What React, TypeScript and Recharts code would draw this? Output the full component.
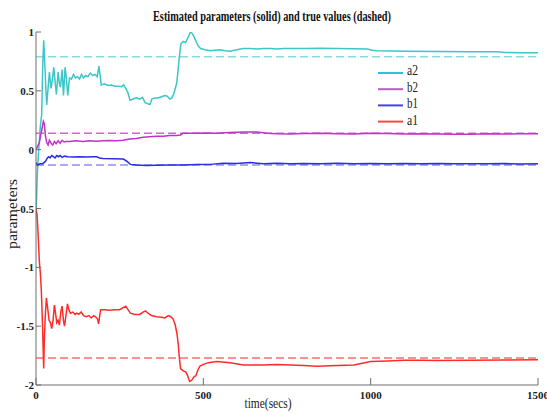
import React from 'react';
import { LineChart, Line, XAxis, YAxis, ReferenceLine, Customized } from 'recharts';

const xTicks = [0, 500, 1000, 1500];
const yTicks = [-2, -1.5, -1, -0.5, 0, 0.5, 1];
const seriesNames = ['a2', 'b2', 'b1', 'a1'];

const a2True = 0.79;
const b2True = 0.14;
const b1True = -0.13;
const a1True = -1.77;

const a2T = [0, 4, 8, 13, 17, 20, 23, 26, 29, 32, 36, 40, 45, 49, 53, 57, 61, 66, 70, 73, 78, 82, 87, 91, 95, 100, 106, 112, 118, 124, 130, 136, 142, 148, 155, 162, 170, 177, 183, 188, 192, 195, 205, 215, 225, 235, 245, 255, 262, 268, 274, 281, 290, 300, 310, 318, 326, 334, 341, 346, 355, 365, 375, 385, 392, 400, 406, 411, 416, 420, 424, 428, 433, 440, 447, 452, 457, 461, 466, 472, 478, 485, 492, 505, 520, 535, 550, 565, 580, 600, 620, 640, 660, 680, 700, 720, 740, 800, 850, 900, 950, 990, 1005, 1020, 1100, 1200, 1300, 1380, 1400, 1450, 1500];
const a2V = [-0.57, -0.2, 0.0, 0.2, 0.3, 0.7, 0.93, 0.75, 0.55, 0.38, 0.52, 0.66, 0.52, 0.6, 0.7, 0.58, 0.47, 0.66, 0.56, 0.53, 0.68, 0.46, 0.7, 0.6, 0.46, 0.61, 0.6, 0.64, 0.61, 0.62, 0.6, 0.64, 0.61, 0.63, 0.62, 0.65, 0.63, 0.64, 0.62, 0.71, 0.62, 0.55, 0.56, 0.545, 0.55, 0.54, 0.54, 0.535, 0.55, 0.52, 0.49, 0.42, 0.43, 0.44, 0.43, 0.445, 0.4, 0.39, 0.385, 0.43, 0.44, 0.44, 0.45, 0.46, 0.455, 0.43, 0.44, 0.47, 0.52, 0.56, 0.66, 0.78, 0.9, 0.92, 0.91, 0.94, 0.97, 1.0, 0.99, 0.96, 0.92, 0.88, 0.86, 0.85, 0.84, 0.845, 0.85, 0.84, 0.837, 0.85, 0.86, 0.86, 0.855, 0.86, 0.86, 0.855, 0.86, 0.86, 0.862, 0.86, 0.858, 0.855, 0.845, 0.84, 0.836, 0.834, 0.832, 0.832, 0.826, 0.824, 0.823];

const b2T = [0, 5, 10, 14, 18, 22, 25, 28, 32, 36, 40, 45, 50, 55, 60, 66, 72, 78, 84, 90, 100, 120, 140, 160, 180, 200, 220, 240, 260, 280, 300, 320, 340, 360, 380, 400, 420, 432, 440, 460, 480, 500, 540, 580, 620, 660, 690, 720, 760, 800, 850, 900, 950, 1000, 1050, 1100, 1150, 1200, 1250, 1300, 1350, 1400, 1450, 1500];
const b2V = [0.0, 0.03, 0.06, 0.12, 0.18, 0.24, 0.22, 0.12, 0.06, 0.04, 0.08, 0.055, 0.04, 0.07, 0.05, 0.075, 0.055, 0.08, 0.065, 0.07, 0.07, 0.075, 0.07, 0.075, 0.072, 0.075, 0.078, 0.075, 0.08, 0.09, 0.095, 0.105, 0.11, 0.115, 0.115, 0.12, 0.12, 0.125, 0.14, 0.14, 0.14, 0.142, 0.14, 0.145, 0.15, 0.15, 0.14, 0.135, 0.133, 0.137, 0.14, 0.135, 0.133, 0.14, 0.137, 0.133, 0.135, 0.133, 0.13, 0.132, 0.135, 0.133, 0.135, 0.135];

const b1T = [0, 5, 12, 20, 28, 34, 38, 42, 47, 52, 57, 62, 67, 72, 78, 85, 95, 110, 130, 150, 170, 181, 190, 200, 230, 261, 272, 282, 300, 330, 360, 400, 440, 480, 520, 560, 600, 640, 680, 720, 760, 800, 850, 900, 950, 1000, 1050, 1100, 1150, 1200, 1250, 1300, 1350, 1400, 1450, 1500];
const b1V = [-0.11, -0.13, -0.12, -0.12, -0.1, -0.07, -0.06, -0.07, -0.05, -0.06, -0.07, -0.05, -0.06, -0.05, -0.065, -0.055, -0.06, -0.062, -0.06, -0.062, -0.06, -0.06, -0.07, -0.075, -0.078, -0.08, -0.1, -0.125, -0.13, -0.135, -0.132, -0.13, -0.13, -0.127, -0.125, -0.115, -0.118, -0.11, -0.12, -0.115, -0.12, -0.118, -0.12, -0.115, -0.12, -0.118, -0.12, -0.117, -0.12, -0.118, -0.12, -0.119, -0.12, -0.118, -0.122, -0.12];

const a1T = [0, 3, 6, 10, 13, 16, 19, 21, 23, 25, 28, 31, 35, 39, 43, 47, 51, 55, 58, 62, 66, 70, 74, 78, 82, 85, 89, 94, 98, 103, 110, 117, 122, 128, 135, 142, 150, 158, 165, 172, 178, 184, 187, 190, 193, 205, 220, 235, 250, 262, 268, 275, 282, 295, 310, 320, 327, 335, 345, 360, 375, 385, 395, 403, 410, 416, 421, 425, 428, 432, 440, 448, 453, 459, 465, 472, 478, 484, 490, 500, 515, 540, 580, 620, 680, 720, 760, 800, 840, 900, 950, 1000, 1050, 1100, 1150, 1200, 1300, 1400, 1500];
const a1V = [-0.5, -0.55, -0.7, -0.95, -1.05, -1.2, -1.45, -1.65, -1.86, -1.6, -1.4, -1.26, -1.35, -1.45, -1.47, -1.52, -1.45, -1.32, -1.38, -1.47, -1.45, -1.49, -1.38, -1.33, -1.45, -1.5, -1.42, -1.31, -1.36, -1.39, -1.38, -1.4, -1.39, -1.4, -1.38, -1.41, -1.42, -1.41, -1.43, -1.41, -1.42, -1.44, -1.48, -1.42, -1.36, -1.36, -1.365, -1.36, -1.36, -1.34, -1.33, -1.36, -1.39, -1.4, -1.4, -1.38, -1.37, -1.39, -1.41, -1.42, -1.425, -1.43, -1.41, -1.42, -1.44, -1.49, -1.56, -1.65, -1.76, -1.86, -1.88, -1.89, -1.92, -1.97, -1.96, -1.93, -1.92, -1.87, -1.84, -1.825, -1.81, -1.8, -1.81, -1.83, -1.83, -1.825, -1.83, -1.835, -1.84, -1.835, -1.83, -1.8, -1.795, -1.79, -1.79, -1.792, -1.79, -1.787, -1.785];

const toPts = (t: number[], v: number[]) => t.map((x, i) => ({ t: x, v: v[i] }));
const a2Data = toPts(a2T, a2V);
const b2Data = toPts(b2T, b2V);
const b1Data = toPts(b1T, b1V);
const a1Data = toPts(a1T, a1V);

const AXIS = '#6e6e6e';
const SERIF = '"Liberation Serif", "DejaVu Serif", serif';

const solidColors: Record<string, string> = { a2: '#3cc6c8', b2: '#c232c8', b1: '#2b2be8', a1: '#ff2b2b' };
const dashColors: Record<string, string> = { a2: '#84dcdc', b2: '#d464d8', b1: '#8e8ef2', a1: '#ff6e6e' };
const legendColors: Record<string, string> = { a2: '#34bde0', b2: '#b060c8', b1: '#4444dc', a1: '#ff4646' };

const fmt = (v: number) => String(v);

const BottomTick = (p: any) => {
  const { x, y, payload } = p;
  return (
    <g>
      <line x1={x} y1={y} x2={x} y2={y - 7} stroke={AXIS} />
      <text x={x} y={y + 14} textAnchor="middle" fontFamily={SERIF} fontWeight="bold" fontSize={11} fill="#222">
        {fmt(payload.value)}
      </text>
    </g>
  );
};
const TopTick = (p: any) => {
  const { x, y } = p;
  return <line x1={x} y1={y} x2={x} y2={y + 7} stroke={AXIS} />;
};
const LeftTick = (p: any) => {
  const { x, y, payload } = p;
  return (
    <g>
      <line x1={x} y1={y} x2={x + 5} y2={y} stroke={AXIS} />
      <text x={x - 2} y={y + 4} textAnchor="end" fontFamily={SERIF} fontWeight="bold" fontSize={11} fill="#222">
        {fmt(payload.value)}
      </text>
    </g>
  );
};
const RightTick = (p: any) => {
  const { x, y } = p;
  return <line x1={x} y1={y} x2={x - 5} y2={y} stroke={AXIS} />;
};

const Texts = () => (
  <g>
    <text x={272} y={21} textAnchor="middle" fontFamily={SERIF} fontWeight="bold" fontSize={14} fill="#111"
      textLength={238} lengthAdjust="spacingAndGlyphs">
      Estimated parameters (solid) and true values (dashed)
    </text>
    <text x={268} y={408} textAnchor="middle" fontFamily={SERIF} fontSize={14} fill="#222"
      textLength={47} lengthAdjust="spacingAndGlyphs">
      time(secs)
    </text>
    <text x={17} y={214} textAnchor="middle" fontFamily={SERIF} fontSize={15} fill="#222"
      transform="rotate(-90 17 214)" textLength={70} lengthAdjust="spacingAndGlyphs">
      parameters
    </text>
    {seriesNames.map((n, i) => (
      <g key={n}>
        <line x1={378} x2={403} y1={73 + i * 16.2} y2={73 + i * 16.2} stroke={legendColors[n]} strokeWidth={2} />
        <text x={407} y={75 + i * 16.7} fontFamily={SERIF} fontSize={14} fill="#222"
          textLength={11} lengthAdjust="spacingAndGlyphs">{n}</text>
      </g>
    ))}
  </g>
);

export default function App() {
  return (
    <div style={{ position: 'absolute', left: 0, top: 0, background: '#fff' }}>
      <LineChart width={547} height={414} margin={{ top: 32, right: 9, left: 0, bottom: 0 }}>
        <XAxis dataKey="t" type="number" domain={[0, 1500]} ticks={xTicks} interval={0}
          allowDataOverflow height={29} stroke={AXIS} tickLine={false} tickSize={0} tickMargin={0} tick={<BottomTick />} />
        <XAxis xAxisId="top" orientation="top" dataKey="t" type="number" domain={[0, 1500]} ticks={xTicks} interval={0}
          height={0} stroke={AXIS} tickLine={false} tickSize={0} tickMargin={0} tick={<TopTick />} />
        <YAxis type="number" domain={[-2, 1]} ticks={yTicks} interval={0} width={36} stroke={AXIS}
          allowDataOverflow tickLine={false} tickSize={0} tickMargin={0} tick={<LeftTick />} />
        <YAxis yAxisId="right" orientation="right" type="number" domain={[-2, 1]} ticks={yTicks} interval={0} width={0}
          stroke={AXIS} tickLine={false} tickSize={0} tickMargin={0} tick={<RightTick />} />
        <ReferenceLine y={a2True} stroke={dashColors.a2} strokeWidth={1.6} strokeDasharray="8 4" />
        <ReferenceLine y={b2True} stroke={dashColors.b2} strokeWidth={1.4} strokeDasharray="8 4" />
        <ReferenceLine y={b1True} stroke={dashColors.b1} strokeWidth={1.6} strokeDasharray="8 4" />
        <ReferenceLine y={a1True} stroke={dashColors.a1} strokeWidth={1.4} strokeDasharray="8 4" />
        <Line data={a2Data} dataKey="v" name="a2" stroke={solidColors.a2} strokeWidth={1.5} dot={false} isAnimationActive={false} />
        <Line data={b2Data} dataKey="v" name="b2" stroke={solidColors.b2} strokeWidth={1.5} dot={false} isAnimationActive={false} />
        <Line data={b1Data} dataKey="v" name="b1" stroke={solidColors.b1} strokeWidth={1.5} dot={false} isAnimationActive={false} />
        <Line data={a1Data} dataKey="v" name="a1" stroke={solidColors.a1} strokeWidth={1.5} dot={false} isAnimationActive={false} />
        <Customized component={Texts} />
      </LineChart>
    </div>
  );
}
